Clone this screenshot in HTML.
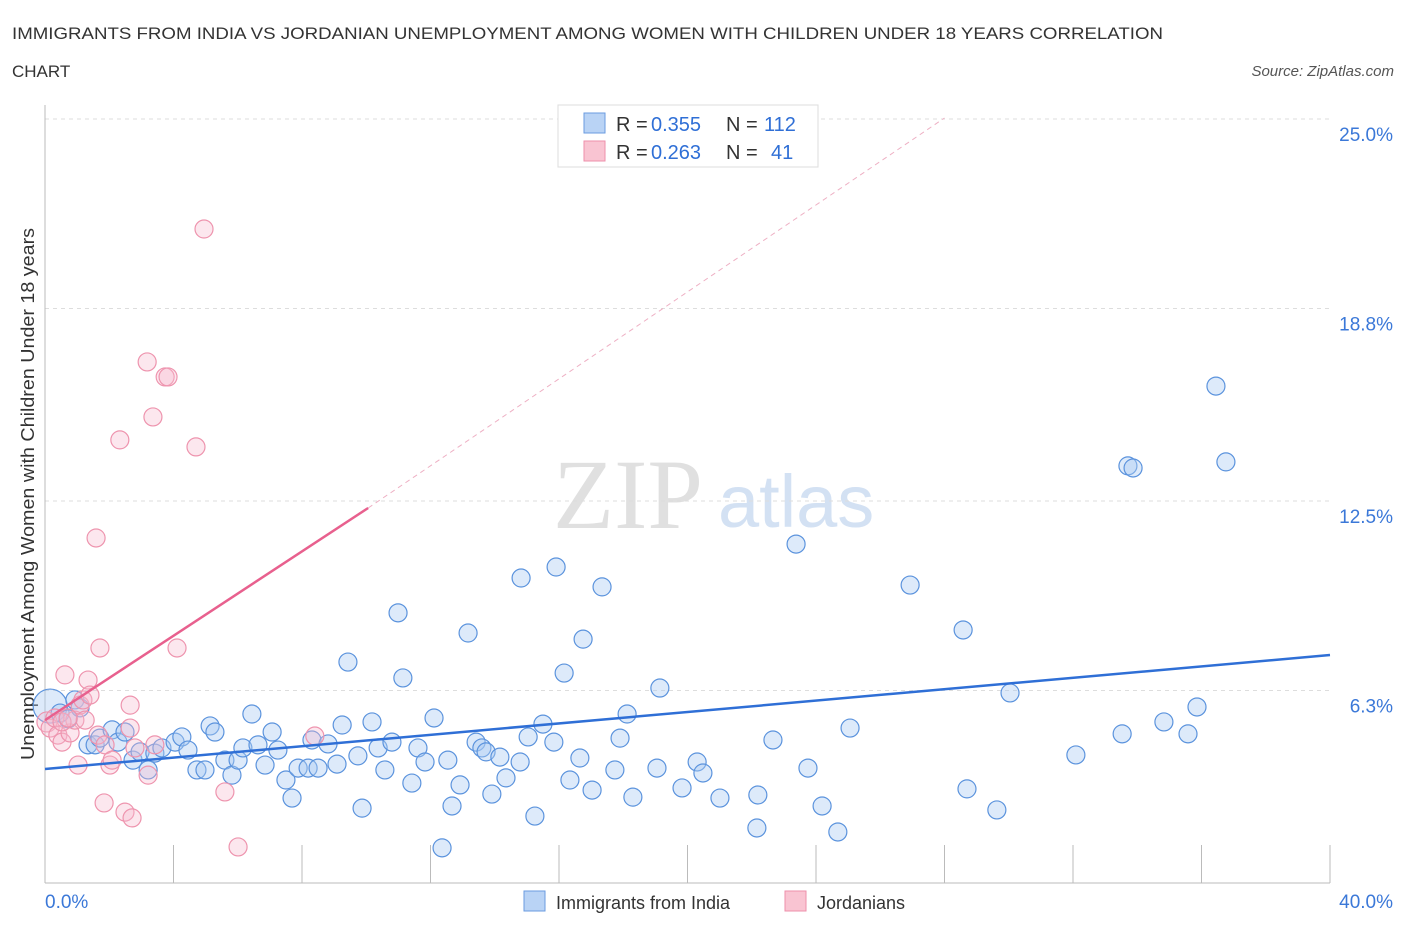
<!DOCTYPE html>
<html><head><meta charset="utf-8"><style>
body{margin:0;background:#fff;width:1406px;height:930px;overflow:hidden;font-family:"Liberation Sans",sans-serif}
svg{position:absolute;left:0;top:0}
</style></head><body>
<svg id="c" width="1406" height="930">
<text x="12" y="39" font-size="17" fill="#333" textLength="1151" lengthAdjust="spacingAndGlyphs">IMMIGRANTS FROM INDIA VS JORDANIAN UNEMPLOYMENT AMONG WOMEN WITH CHILDREN UNDER 18 YEARS CORRELATION</text>
<text x="12" y="77" font-size="17" fill="#333">CHART</text>
<text x="1394" y="76" font-size="15" fill="#555" font-style="italic" text-anchor="end">Source: ZipAtlas.com</text>
<text x="553" y="528" font-size="100" fill="#e0e0e0" font-family="Liberation Serif,serif">ZIP</text>
<text x="718" y="527" font-size="74" fill="#d3e1f3">atlas</text>
<text x="34" y="494" font-size="18" fill="#333" text-anchor="middle" textLength="532" lengthAdjust="spacingAndGlyphs" transform="rotate(-90 34 494)">Unemployment Among Women with Children Under 18 years</text>
<g id="grid"></g><g id="marks"></g>
<g>
<rect x="558" y="105" width="260" height="62" fill="#fff" stroke="#ddd"/>
<rect x="584" y="113" width="21" height="20" fill="#b9d3f5" stroke="#6a9be0"/>
<rect x="584" y="141" width="21" height="20" fill="#f9c4d2" stroke="#ee8fab"/>
<text x="616" y="131" font-size="20" fill="#333">R =</text><text x="651" y="131" font-size="20" fill="#2f6fd6">0.355</text>
<text x="726" y="131" font-size="20" fill="#333">N =</text><text x="764" y="131" font-size="20" fill="#2f6fd6">112</text>
<text x="616" y="159" font-size="20" fill="#333">R =</text><text x="651" y="159" font-size="20" fill="#2f6fd6">0.263</text>
<text x="726" y="159" font-size="20" fill="#333">N =</text><text x="771" y="159" font-size="20" fill="#2f6fd6">41</text>
</g>
<g>
<rect x="524" y="891" width="21" height="20" fill="#b9d3f5" stroke="#6a9be0"/>
<text x="556" y="909" font-size="18" fill="#333">Immigrants from India</text>
<rect x="785" y="891" width="21" height="20" fill="#f9c4d2" stroke="#ee8fab"/>
<text x="817" y="909" font-size="18" fill="#333">Jordanians</text>
</g>
</svg>
<script>
const yTicks=[6.3,12.5,18.8,25.0];
const yTickLabels=["6.3%","12.5%","18.8%","25.0%"];
const xTickLabels=["0.0%","40.0%"];
const blueX=[0.16,0.47,0.72,0.93,1.09,1.34,1.56,1.71,2.09,2.27,2.49,2.74,2.96,3.21,3.42,3.64,4.05,4.26,4.45,4.73,4.98,5.14,5.29,5.60,5.82,6.01,6.16,6.44,6.63,6.85,7.07,7.25,7.50,7.69,7.88,8.19,8.31,8.50,8.81,9.09,9.25,9.43,9.74,9.87,10.18,10.37,10.58,10.80,10.99,11.14,11.42,11.61,11.83,12.11,12.36,12.54,12.67,12.92,13.17,13.42,13.60,13.73,13.91,14.16,14.35,14.79,14.82,15.04,15.25,15.50,15.84,15.91,16.16,16.34,16.65,16.75,17.03,17.34,17.74,17.90,18.12,18.30,19.05,19.14,19.83,20.30,20.48,21.01,22.16,22.19,22.66,23.38,23.75,24.19,24.68,25.06,26.93,28.58,28.70,29.63,30.04,32.09,33.53,33.71,33.87,34.83,35.58,35.86,36.45,36.76];
const blueY=[5.79,5.56,5.37,5.99,5.73,4.52,4.52,4.74,5.01,4.61,4.94,4.02,4.29,3.70,4.25,4.42,4.61,4.78,4.35,3.70,3.70,5.14,4.94,4.02,3.53,4.02,4.42,5.53,4.52,3.86,4.94,4.35,3.37,2.78,3.76,3.76,4.68,3.76,4.55,3.89,5.17,7.23,4.16,2.45,5.27,4.42,3.70,4.61,8.84,6.71,3.27,4.42,3.96,5.40,1.15,4.02,2.52,3.21,8.18,4.61,4.42,4.29,2.91,4.12,3.44,3.96,9.98,4.78,2.19,5.20,4.61,10.34,6.87,3.37,4.09,7.98,3.04,9.69,3.70,4.74,5.53,2.81,3.76,6.38,3.11,3.96,3.60,2.78,1.80,2.88,4.68,11.09,3.76,2.52,1.67,5.07,9.75,8.28,3.08,2.39,6.22,4.19,4.88,13.65,13.58,5.27,4.88,5.76,16.26,13.78];
const pinkX=[0.06,0.16,0.31,0.40,0.53,0.62,0.78,0.93,1.03,1.09,1.18,1.25,1.34,1.40,1.59,1.65,1.71,1.87,1.84,2.02,2.09,2.49,2.65,2.65,2.71,3.18,3.21,3.36,3.42,3.74,3.83,4.11,4.70,4.95,5.60,6.01,8.40,2.33,0.53,0.72,2.80];
const pinkY=[5.27,5.07,5.40,4.84,4.61,6.81,4.91,5.33,3.86,5.82,5.99,5.33,6.64,6.15,11.29,4.84,7.69,4.52,2.62,3.86,4.02,2.32,5.82,5.07,2.13,17.05,3.53,15.25,4.52,16.56,16.56,7.69,14.27,21.40,2.98,1.18,4.81,14.50,5.27,5.40,4.42];
const blueTrend=[3.73,7.46];   // y at x=0 and x=40
const pinkTrend=[5.33,0.69];   // intercept, slope
const NS='http://www.w3.org/2000/svg';
const X=v=>45+v*32.125, Y=v=>883-v*30.56;
function mk(p,t,a){const e=document.createElementNS(NS,t);for(const k in a)e.setAttribute(k,a[k]);p.appendChild(e);return e;}
const g=document.getElementById('grid'), m=document.getElementById('marks');
yTicks.forEach((t,i)=>{
 const l=mk(g,'line',{x1:45,x2:1330,y1:Y(t),y2:Y(t),stroke:'#ddd','stroke-dasharray':'4,4'});
 
 
 const tx=mk(g,'text',{x:1393,y:Y(t)+22,'font-size':19,fill:'#3b78d8','text-anchor':'end'});tx.textContent=yTickLabels[i];
 
 
});
const ax=mk(g,'line',{x1:45,x2:1330,y1:883,y2:883,stroke:'#bbb'});


const ay=mk(g,'line',{x1:45,x2:45,y1:105,y2:883,stroke:'#bbb'});


for(let i=0;i<=10;i++){const t=mk(g,'line',{x1:X(i*4),x2:X(i*4),y1:845,y2:883,stroke:'#bbb'});
 
 }
const xl0=mk(g,'text',{x:45,y:908,'font-size':19,fill:'#3b78d8'});xl0.textContent=xTickLabels[0];


const xl1=mk(g,'text',{x:1393,y:908,'font-size':19,fill:'#3b78d8','text-anchor':'end'});xl1.textContent=xTickLabels[1];


blueX.forEach((x,i)=>{const c=mk(m,'circle',{cx:X(x),cy:Y(blueY[i]),r:i==0?17:9,fill:'rgba(170,202,242,0.4)',stroke:'#5b93dd','stroke-width':1.2});
 
 });
pinkX.forEach((x,i)=>{const c=mk(m,'circle',{cx:X(x),cy:Y(pinkY[i]),r:i==0?10:9,fill:'rgba(246,185,205,0.35)',stroke:'#ee94ae','stroke-width':1.2});
 
 });
const bl=mk(m,'line',{x1:X(0),y1:Y(blueTrend[0]),x2:X(40),y2:Y(blueTrend[1]),stroke:'#2f6fd6','stroke-width':2.5});


const pl=mk(m,'line',{x1:X(0),y1:Y(pinkTrend[0]),x2:X(10.06),y2:Y(pinkTrend[0]+pinkTrend[1]*10.06),stroke:'#e8608e','stroke-width':2.5});


const xe=28.0;
const pd=mk(m,'line',{x1:X(10.06),y1:Y(pinkTrend[0]+pinkTrend[1]*10.06),x2:X(xe),y2:118,stroke:'#eeb0c4','stroke-width':1,'stroke-dasharray':'5,4'});


</script>
</body></html>
